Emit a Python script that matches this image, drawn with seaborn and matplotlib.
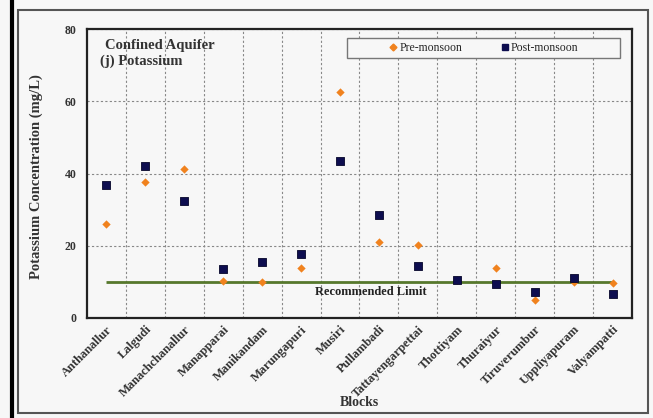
import matplotlib
matplotlib.use("Agg")
import matplotlib.pyplot as plt
import seaborn as sns
import pandas as pd
import numpy as np
from matplotlib.patches import Rectangle
from matplotlib.lines import Line2D
from matplotlib.ticker import MultipleLocator, FixedLocator

blocks = ["Anthanallur", "Lalgudi", "Manachchanallur", "Manapparai", "Manikandam",
          "Marungapuri", "Musiri", "Pullambadi", "Tattayengarpettai", "Thottiyam",
          "Thuraiyur", "Tiruverumbur", "Uppliyapuram", "Valyampatti"]
pre_monsoon = [26.0, 37.7, 41.3, 10.2, 10.0, 13.8, 62.6, 21.1, 20.1, 10.5, 13.8, 4.9, 10.1, 9.7]
post_monsoon = [36.8, 42.1, 32.4, 13.6, 15.6, 17.8, 43.5, 28.5, 14.5, 10.6, 9.5, 7.2, 11.2, 6.7]
recommended_limit = 10
y_ticks = [0, 20, 40, 60, 80]

sns.set_style("white")
plt.rcParams['font.family'] = ['Liberation Serif', 'DejaVu Serif']

bg = "#f7f7f7"
fig = plt.figure(figsize=(6.53, 4.18), dpi=100, facecolor=bg)
W, H = 653, 418
ax = fig.add_axes([87 / W, 1 - 318 / H, (632 - 87) / W, (318 - 29) / H])
ax.set_facecolor(bg)

# outer frame
fig.patches.append(Rectangle((18 / W, 1 - 413 / H), (648 - 18) / W, (413 - 10) / H,
                             transform=fig.transFigure, fill=False, edgecolor="#555555",
                             lw=1.5, zorder=0))
fig.lines.append(Line2D([11.5 / W, 11.5 / W], [0, 1], transform=fig.transFigure,
                        color="black", lw=3))

df = pd.DataFrame({"Block": blocks, "Pre": pre_monsoon, "Post": post_monsoon})
pos = np.arange(len(blocks))
df["x"] = pos

sns.scatterplot(data=df, x="x", y="Pre", marker="D", s=18, color="#f0821e",
                edgecolor="#f0821e", linewidth=0, ax=ax, zorder=3)
sns.scatterplot(data=df, x="x", y="Post", marker="s", s=36, color="#0d0d4f",
                edgecolor="#05052a", linewidth=0.6, ax=ax, zorder=4)

ax.hlines(recommended_limit, pos[0], pos[-1], color="#56782c", lw=2, zorder=2)
ax.text(6.8, recommended_limit - 2.8, "Recommended Limit", ha="center", va="center",
        fontsize=9, fontweight="bold", color="#222222")

ax.set_xlim(-0.5, len(blocks) - 0.5)
ax.set_ylim(0, 80)

ax.xaxis.set_major_locator(FixedLocator(np.arange(0.5, len(blocks) - 0.5, 1)))
ax.set_xticklabels([], minor=False)
ax.set_xticks(pos, minor=True)
ax.set_xticklabels(blocks, minor=True, rotation=45, ha="right", va="top",
                   rotation_mode="anchor", fontsize=9, fontweight="bold", color="#333333")
ax.tick_params(axis="x", which="major", direction="out", length=5, width=1, color="#333333")
ax.tick_params(axis="x", which="minor", length=0, pad=4)

ax.set_yticks(y_ticks)
ax.yaxis.set_minor_locator(MultipleLocator(5))
ax.tick_params(axis="y", which="major", direction="inout", length=8, width=1.2,
               color="#333333", labelsize=8.5)
ax.tick_params(axis="y", which="minor", direction="inout", length=4, width=1, color="#333333")
for lbl in ax.get_yticklabels():
    lbl.set_fontweight("bold")
    lbl.set_color("#333333")

ax.grid(True, which="major", axis="both", linestyle=(0, (2, 2)), color="#888888", lw=0.8)
for sp in ax.spines.values():
    sp.set_color("#222222")
    sp.set_linewidth(1.6)
    sp.set_visible(True)

ax.set_xlabel("Blocks", fontsize=10, fontweight="bold", color="#333333")
ax.xaxis.set_label_coords(0.5, -0.27)
ax.set_ylabel("Potassium Concentration (mg/L)", fontsize=10.5, fontweight="bold", color="#333333")
ax.yaxis.set_label_coords(-0.08, 0.49)

fig.text(105 / W, 1 - 45 / H, "Confined Aquifer", fontsize=10.5, fontweight="bold",
         color="#333333", va="center", ha="left")
fig.text(100 / W, 1 - 61 / H, "(j) Potassium", fontsize=10.5, fontweight="bold",
         color="#333333", va="center", ha="left")

# legend
ax.add_patch(Rectangle(((347 - 87) / 545, (318 - 58) / 289), (620 - 347) / 545, 20 / 289,
                       transform=ax.transAxes, facecolor=bg, edgecolor="#777777",
                       lw=1, zorder=5))
handles = [Line2D([], [], marker="D", color="#f0821e", linestyle="", markersize=3.5),
           Line2D([], [], marker="s", color="#0d0d4f", linestyle="", markersize=5)]
leg = ax.legend(handles, ["Pre-monsoon", "Post-monsoon"], ncol=2, frameon=False,
                loc="center", bbox_to_anchor=((483.5 - 87) / 545, (318 - 48) / 289),
                fontsize=8.5, handletextpad=0.1, handlelength=0.8, columnspacing=3.2)
leg.set_zorder(6)

fig.savefig("out.png", dpi=100, facecolor=bg)
